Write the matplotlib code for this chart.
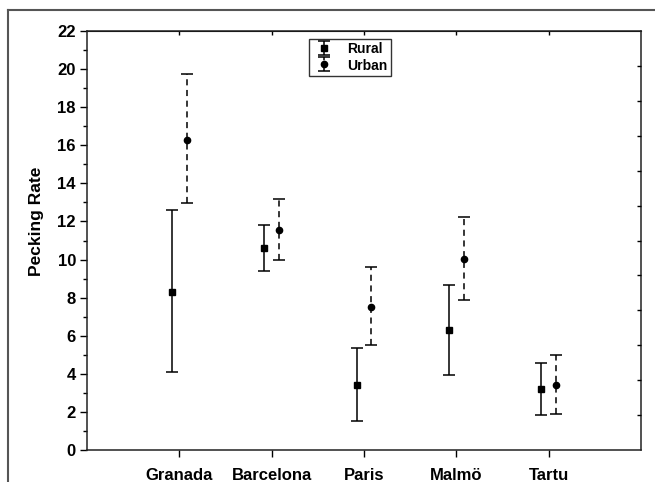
import numpy as np
import matplotlib
matplotlib.use('Agg')
import matplotlib.pyplot as plt
from matplotlib.lines import Line2D

plt.rcParams['font.family'] = ['Liberation Sans', 'DejaVu Sans']
plt.rcParams['font.weight'] = 'bold'

# data
cities = ['Granada', 'Barcelona', 'Paris', 'Malmö', 'Tartu']
rural_mean = [8.3, 10.6, 3.4, 6.3, 3.2]
rural_low = [4.07, 9.4, 1.54, 3.95, 1.85]
rural_high = [12.6, 11.83, 5.34, 8.68, 4.58]
urban_mean = [16.3, 11.55, 7.5, 10.05, 3.43]
urban_low = [12.98, 9.95, 5.5, 7.86, 1.9]
urban_high = [19.74, 13.17, 9.6, 12.22, 4.97]

W, H = 655, 482
fig = plt.figure(figsize=(W / 100, H / 100), dpi=100)
ax = fig.add_axes([87 / W, 1 - 450 / H, (641 - 87) / W, (450 - 31) / H])

x = np.arange(1, len(cities) + 1)
off = 0.08

r_err = [np.array(rural_mean) - np.array(rural_low), np.array(rural_high) - np.array(rural_mean)]
u_err = [np.array(urban_mean) - np.array(urban_low), np.array(urban_high) - np.array(urban_mean)]

eb1 = ax.errorbar(x - off, rural_mean, yerr=r_err, fmt='s', color='black', ms=4.5,
                  capsize=4, elinewidth=1.1, capthick=1.1, label='Rural')
eb2 = ax.errorbar(x + off, urban_mean, yerr=u_err, fmt='o', color='black', ms=4.5,
                  capsize=4, elinewidth=1.1, capthick=1.1, label='Urban')
eb2[2][0].set_linestyle((0, (4, 3)))

ax.set_xlim(0, 6)
ax.set_ylim(0, 22)
ax.set_xticks(x)
ax.set_xticklabels(cities, fontsize=12, fontweight='bold')
ax.set_yticks(np.arange(0, 23, 2))
ax.set_yticks(np.arange(1, 22, 2), minor=True)
ax.tick_params(axis='y', which='major', direction='out', length=5, width=1, labelsize=12, pad=3)
ax.tick_params(axis='y', which='minor', direction='out', length=3, width=1)
ax.tick_params(axis='x', which='both', direction='out', length=5, width=1, pad=8, top=False)
ax.set_ylabel('Pecking Rate', fontsize=12.5, fontweight='bold',
              family=['Liberation Sans Narrow', 'Liberation Sans', 'DejaVu Sans'])
ax.yaxis.set_label_coords((44 - 87) / 554, (450 - 221) / 419)

for s in ax.spines.values():
    s.set_linewidth(1.1)
    s.set_color('#222222')

# top ticks pointing inward
secx = ax.secondary_xaxis('top')
secx.set_xticks(x)
secx.set_xticklabels([])
secx.tick_params(direction='in', length=3, width=1)

# right axis with its own ticks
ax2 = ax.twinx()
ax2.set_ylim(0, 12)
ax2.set_yticks(np.arange(1, 12))
ax2.set_yticklabels([])
ax2.tick_params(axis='y', direction='in', length=3, width=1)
for s in ax2.spines.values():
    s.set_visible(False)

leg = ax.legend(loc='upper center', bbox_to_anchor=((350 - 87) / (641 - 87), (450 - 39) / 419),
                frameon=True, fancybox=False, edgecolor='black', fontsize=10,
                handlelength=1.7, handleheight=0.9, borderpad=0.25, labelspacing=0.15,
                handletextpad=0.8, borderaxespad=0)
leg.get_frame().set_linewidth(1)
for t in leg.get_texts():
    t.set_fontweight('bold')

# outer frame fragments
fig.add_artist(Line2D([8 / W, 1], [1 - 10 / H, 1 - 10 / H], color='#555555', lw=1.5,
                      transform=fig.transFigure))
fig.add_artist(Line2D([8 / W, 8 / W], [0, 1 - 10 / H], color='#555555', lw=1.5,
                      transform=fig.transFigure))

fig.savefig('out.png', dpi=100)
